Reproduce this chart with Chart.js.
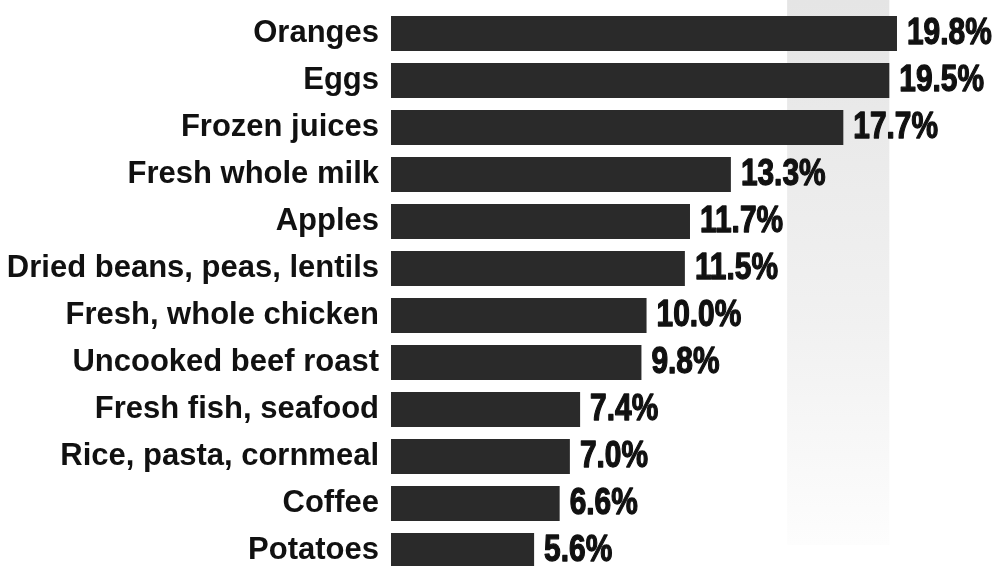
<!DOCTYPE html>
<html>
<head>
<meta charset="utf-8">
<script src="https://cdn.jsdelivr.net/npm/chart.js@4"></script>
<style>
  html, body { margin: 0; padding: 0; background: #fff; overflow: hidden; }
  #wrap { width: 1001px; height: 580px; }
</style>
</head>
<body>
<div id="wrap"><canvas id="food-chart"></canvas></div>
<script>
const categories = [
  "Oranges", "Eggs", "Frozen juices", "Fresh whole milk", "Apples",
  "Dried beans, peas, lentils", "Fresh, whole chicken", "Uncooked beef roast",
  "Fresh fish, seafood", "Rice, pasta, cornmeal", "Coffee", "Potatoes"
];
const values = [19.8, 19.5, 17.7, 13.3, 11.7, 11.5, 10.0, 9.8, 7.4, 7.0, 6.6, 5.6];
const valueLabels = values.map(v => v.toFixed(1) + "%");

// light shaded column behind the long bars
const bandPlugin = {
  id: "band",
  beforeDatasetsDraw(chart) {
    const ctx = chart.ctx;
    const x = chart.scales.x;
    const x0 = x.getPixelForValue(15.5);
    const x1 = x.getPixelForValue(19.5);
    const g = ctx.createLinearGradient(0, 0, 0, 545);
    g.addColorStop(0, "#e5e5e5");
    g.addColorStop(0.6, "#f1f1f1");
    g.addColorStop(1, "#fdfdfd");
    ctx.save();
    ctx.fillStyle = g;
    ctx.fillRect(x0, 0, x1 - x0, 545);
    ctx.restore();
  }
};

// condensed heavy value labels: bold face squeezed and thickened
const valuePlugin = {
  id: "values",
  afterDatasetsDraw(chart) {
    const ctx = chart.ctx;
    const meta = chart.getDatasetMeta(0);
    ctx.save();
    ctx.fillStyle = "#111";
    ctx.strokeStyle = "#111";
    ctx.lineWidth = 1.3;
    ctx.lineJoin = "round";
    ctx.font = "bold 36px 'Liberation Sans', Arial, sans-serif";
    ctx.textBaseline = "middle";
    ctx.textAlign = "left";
    meta.data.forEach((bar, i) => {
      const w = ctx.measureText(valueLabels[i]).width * 0.83;
      ctx.fillText(valueLabels[i], bar.x + 10, bar.y + 1, w);
      ctx.strokeText(valueLabels[i], bar.x + 10, bar.y + 1, w);
    });
    ctx.restore();
  }
};

const ctx = document.getElementById("food-chart").getContext("2d");
new Chart(ctx, {
  type: "bar",
  data: {
    labels: categories,
    datasets: [
      {
        data: values,
        backgroundColor: "#2a2a2a",
        borderWidth: 0,
        categoryPercentage: 1,
        barPercentage: 0.745,
      },
    ],
  },
  options: {
    indexAxis: "y",
    animation: false,
    responsive: true,
    maintainAspectRatio: false,
    layout: { padding: { top: 10, bottom: 6, left: 0, right: 0 } },
    plugins: {
      legend: { display: false },
      tooltip: { enabled: false },
    },
    scales: {
      x: {
        display: false,
        min: 0,
        max: 23.87,
      },
      y: {
        afterFit(scale) {
          scale.width = 391;
          scale.paddingTop = 0;
          scale.paddingBottom = 0;
        },
        grid: { display: false, drawTicks: false, tickLength: 0 },
        border: { display: false },
        ticks: {
          padding: 12,
          color: "#111",
          font: { family: "'Liberation Sans', Arial, sans-serif", size: 31, weight: "bold" },
        },
      },
    },
  },
  plugins: [bandPlugin, valuePlugin],
});
</script>
</body>
</html>
